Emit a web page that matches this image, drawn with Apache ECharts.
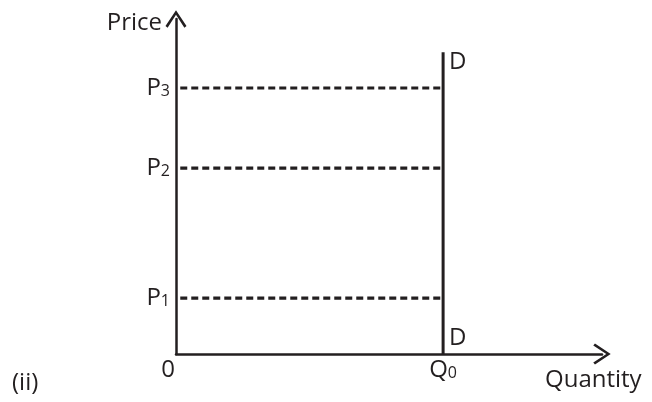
<!DOCTYPE html>
<html>
<head>
<meta charset="utf-8">
<script src="https://cdn.jsdelivr.net/npm/echarts@6/dist/echarts.min.js"></script>
<style>
html,body{margin:0;padding:0;background:#fff;}
#main{width:652px;height:402px;}
</style>
</head>
<body>
<div id="main"></div>
<script>
// price levels (y) and demand quantity (x)
var priceNames = ['P1', 'P2', 'P3'];
var priceLevels = [16.7, 55.5, 79.4];
var q0 = 62.7;
var demandTop = 90.1;
var dashStart = 1;

var ink = '#231f20';
var font = 'Open Sans';
var big = 24;
var small = 16;
var chevron = 'path://M0,15 L10,0 L20,15 L18,16.6 L10,4.2 L2,16.6 Z';

var series = [];
// vertical demand curve D-D
series.push({
	type : 'line',
	symbol : 'circle',
	symbolSize : 0,
	showSymbol : true,
	lineStyle : {color : ink, width : 3},
	itemStyle : {color : ink},
	label : {show : true, formatter : 'D', position : 'right', color : ink, fontFamily : font, fontSize : big},
	data : [
		{value : [q0, 0], label : {offset : [1, -16]}},
		{value : [q0, demandTop], label : {offset : [1, 10]}}
	],
	silent : true
});
// dashed price lines
for (var i = 0; i < priceLevels.length; i++) {
	series.push({
		type : 'line',
		symbol : 'none',
		lineStyle : {color : ink, width : 3.2, type : [7, 4]},
		data : [[dashStart, priceLevels[i]], [q0, priceLevels[i]]],
		silent : true
	});
}

var option = {
	animation : false,
	title : {
		text : '(ii)',
		left : 7,
		top : 366,
		textStyle : {color : ink, fontFamily : font, fontSize : big, fontWeight : 'normal'}
	},
	grid : {left : 176, right : 50, top : 19, bottom : 48},
	xAxis : {
		type : 'value',
		min : 0,
		max : 100,
		name : 'Quantity',
		nameLocation : 'end',
		nameGap : -57,
		nameTextStyle : {color : ink, fontFamily : font, fontSize : big, align : 'left', verticalAlign : 'top', padding : [14, 0, 0, 0]},
		axisLine : {show : true, symbol : ['none', chevron], symbolSize : [21, 18], lineStyle : {color : ink, width : 2.5}},
		axisTick : {show : false},
		splitLine : {show : false},
		axisLabel : {
			customValues : [0, q0],
			margin : 4,
			formatter : function (v) {
				return v === 0 ? '{z|0}' : '{a|Q}{b|0}';
			},
			rich : {
				z : {fontSize : big, fontFamily : font, color : ink, padding : [0, 16, 0, 0]},
				a : {fontSize : big, fontFamily : font, color : ink},
				b : {fontSize : small, fontFamily : font, color : ink, padding : [6, 0, 0, 0]}
			}
		}
	},
	yAxis : {
		type : 'value',
		min : 0,
		max : 100,
		name : 'Price',
		nameLocation : 'end',
		nameGap : -4,
		nameTextStyle : {color : ink, fontFamily : font, fontSize : big, align : 'right', verticalAlign : 'middle', padding : [0, 14, 0, 0]},
		axisLine : {show : true, symbol : ['none', chevron], symbolSize : [21, 18], lineStyle : {color : ink, width : 2.5}},
		axisTick : {show : false},
		splitLine : {show : false},
		axisLabel : {
			customValues : priceLevels,
			margin : 6,
			formatter : function (v) {
				var n = priceNames[priceLevels.indexOf(v)];
				return '{a|' + n.charAt(0) + '}{b|' + n.charAt(1) + '}';
			},
			rich : {
				a : {fontSize : big, fontFamily : font, color : ink},
				b : {fontSize : small, fontFamily : font, color : ink, padding : [6, 0, 0, 0]}
			}
		}
	},
	series : series
};

var myChart = echarts.init(document.getElementById('main'));
myChart.setOption(option);
</script>
</body>
</html>
